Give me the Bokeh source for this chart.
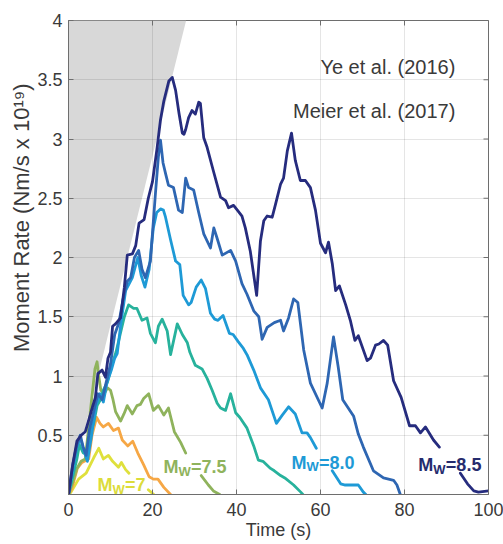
import math
import numpy as np
from bokeh.plotting import figure
from bokeh.models import Range1d, FixedTicker, Label, CustomJSTickFormatter, Title
from bokeh.embed import file_html
from bokeh.resources import INLINE

nan = float("nan")

# ---------------- data ----------------
x_ticks = [0, 20, 40, 60, 80, 100]
y_ticks = [0.5, 1, 1.5, 2, 2.5, 3, 3.5, 4]

# grey wedge (rupture-growth limit)
wedge_t = [0, 28, 0]
wedge_y = [0, 4, 4]

# Mw 7.0 (yellow)
t_70 = [0, 0.6, 2.4, 4.2, 6, 7.2, 8.3, 9.5, 10.5, 11.9, 12.6, 13.6, 14.4, nan, 19, 20.3]
m_70 = [0, 0.02, 0.13, 0.18, 0.31, 0.39, 0.30, 0.33, 0.28, 0.23, 0.27, 0.21, 0.18, nan, 0.04, 0]

# Mw 7.25 (orange)
t_725 = [0, 0.8, 2.1, 3.2, 4.8, 5.6, 6.7, 7.5, 8.3, 9.5, 10.7, 11.9, 12.8, 14.1, 15.3, 16.5,
         17.9, 19.2, 20.2, 21.3, 22.7, 24.3]
m_725 = [0, 0.05, 0.22, 0.27, 0.30, 0.50, 0.65, 0.60, 0.57, 0.60, 0.54, 0.56, 0.46, 0.41, 0.45, 0.35,
         0.25, 0.15, 0.13, 0.13, 0.06, 0]

# Mw 7.5 (olive)
t_75 = [0, 1, 2, 3, 4, 4.6, 5.5, 6.3, 6.8, 7.2, 7.7, 8.5, 9.3, 10, 10.6, 11.2, 12.4, 13.2, 14,
        15.2, 16.3, 17.1, 17.9, 19.1, 20.2, 21.4, 22.7, 23.8, 25.2, 26.7, 27.9, nan,
        31.6, 33.3, 34.5, 36]
m_75 = [0, 0.10, 0.22, 0.28, 0.30, 0.50, 0.80, 1.06, 1.12, 1.00, 0.88, 0.85, 0.90, 0.88, 0.80, 0.70,
        0.62, 0.68, 0.75, 0.68, 0.75, 0.76, 0.81, 0.85, 0.71, 0.75, 0.67, 0.73, 0.53, 0.44, 0.35, nan,
        0.16, 0.08, 0.03, 0]

# Mw 7.75 (teal)
t_775 = [0, 1, 2, 2.6, 3.5, 4.3, 5, 6, 6.8, 7.6, 8.3, 9.3, 10.4, 11.3, 12.3, 13.3, 14.3, 15.5,
         16.3, 17.5, 18.7, 19.5, 20.7, 21.4, 22.3, 23.5, 24.3, 25.9, 27.1, 28.3, 28.9, 30.2,
         31.8, 33, 34.2, 35.4, 36.2, 37.4, 38.6, 39.8, 40.8, 42.5, 44.1, 45.2, 46.3, 48.1, 49,
         50.5, 51.5, 53.6, 55.3, 55.8]
m_775 = [0, 0.15, 0.30, 0.42, 0.35, 0.35, 0.50, 0.60, 0.75, 0.80, 0.88, 0.95, 1.10, 1.20, 1.35,
         1.50, 1.60, 1.57, 1.57, 1.47, 1.49, 1.36, 1.28, 1.42, 1.48, 1.38, 1.18, 1.44, 1.35, 1.28,
         1.20, 1.09, 1.06, 0.98, 0.88, 0.77, 0.73, 0.71, 0.85, 0.69, 0.65, 0.56, 0.41, 0.29, 0.28,
         0.22, 0.20, 0.16, 0.14, 0.08, 0.02, 0]

# Mw 8.0 (light blue)
t_80 = [0, 1, 2, 2.8, 3.6, 4.5, 5.5, 6.5, 7.5, 8.3, 9.2, 10.2, 11, 11.6, 12.5, 13.6, 15.2, 16.5,
        17.3, 18.2, 19.2, 20.2, 21, 21.9, 22.6, 23.1, 24.3, 25.5, 26.5, 27.3, 28.6, 29.2, 30.4,
        31.6, 32.6, 33.8, 34.8, 35.6, 36.8, 38.3, 39.2, 40.4, 41.5, 42.5, 44.1, 45.7, 47.6, 49.5,
        50.9, 52.4, 54, 55.6, 56.8, 57.6, 59, nan, 62.8, 64.8, 65.9, 69, 70.2, 70.8]
m_80 = [0, 0.20, 0.40, 0.48, 0.38, 0.28, 0.50, 0.75, 0.85, 0.78, 0.95, 1.05, 1.15, 1.19, 1.45,
        1.72, 1.83, 2.00, 1.85, 1.75, 1.90, 2.25, 2.38, 2.41, 2.40, 2.34, 2.15, 1.97, 1.94, 1.68,
        1.60, 1.62, 1.75, 1.81, 1.74, 1.53, 1.48, 1.47, 1.51, 1.36, 1.35, 1.29, 1.24, 1.18, 1.05,
        0.90, 0.80, 0.60, 0.67, 0.74, 0.68, 0.52, 0.52, 0.48, 0.39, nan, 0.20, 0.09, 0.08, 0.08,
        0.02, 0]

# Mw 8.25 (blue)
t_825 = [0, 1, 2, 2.8, 3.5, 4.2, 5, 6, 7, 8, 9, 10, 11, 12, 13, 14, 14.8, 15.7, 16.7, 17.5,
         18.3, 19.5, 20.7, 21.4, 21.9, 22.5, 23.1, 23.8, 25, 26.2, 27.1, 27.9, 28.6, 29.8, 31,
         32.2, 33.8, 34.6, 35.4, 36.6, 38.6, 39.8, 41.3, 42.5, 44.1, 45.3, 46.1, 47.3, 49, 50.5,
         51.2, 52.4, 53.6, 54.6, 56, 57.6, 60.4, 61.6, 63.1, 64.2, 65.3, 67.9, 69, 70.2, 72.6,
         75, 77.4, 78.2, 79]
m_825 = [0, 0.25, 0.42, 0.50, 0.40, 0.33, 0.55, 0.70, 0.85, 0.80, 0.95, 1.10, 1.35, 1.45, 1.65,
         1.80, 1.83, 2.00, 2.06, 1.90, 1.83, 1.97, 2.54, 2.85, 2.99, 2.80, 2.71, 2.61, 2.59, 2.40,
         2.38, 2.67, 2.59, 2.57, 2.38, 2.20, 2.08, 2.25, 2.16, 2.02, 2.06, 1.97, 1.78, 1.69, 1.55,
         1.50, 1.31, 1.41, 1.45, 1.47, 1.38, 1.49, 1.65, 1.62, 1.22, 0.94, 0.73, 0.94, 1.33, 1.08,
         0.80, 0.66, 0.51, 0.40, 0.20, 0.14, 0.12, 0.08, 0]

# Mw 8.5 (navy)
t_85 = [0, 1, 2, 3, 4, 5, 5.8, 6.4, 7, 8, 8.8, 9.4, 10, 10.5, 11.2, 12.4, 13.3, 14, 15.2, 16,
        16.8, 18, 19, 20, 21, 21.9, 22.7, 23.9, 24.7, 25.5, 26.3, 27.1, 27.5, 27.9, 28.6, 29.4,
        30.2, 31, 31.4, 32.2, 33, 34.5, 36.2, 37.4, 38.1, 39.3, 40.2, 41.3, 42.1, 43.3, 44.8,
        45.7, 46.5, 47.3, 48.5, 49.3, 50.5, 51.2, 52.1, 53.1, 54, 55.2, 56.4, 57.6, 58.8, 60,
        61.2, 61.9, 62.8, 63.6, 64.5, 66, 67.1, 68.2, 69, 71.1, 71.9, 73.1, 73.9, 75, 76, 77.4,
        79.2, 81.2, 82.6, 83.8, 85, 86.9, 88.3, nan, 93.3, 95, 96.5, 97.6, 100]
m_85 = [0, 0.25, 0.45, 0.50, 0.53, 0.65, 0.75, 0.82, 1.02, 1.05, 0.99, 1.15, 1.20, 1.42, 1.44,
        1.49, 1.75, 2.02, 2.03, 2.10, 2.29, 2.32, 2.50, 2.64, 2.90, 3.16, 3.32, 3.49, 3.52, 3.41,
        3.22, 3.05, 3.04, 3.08, 3.18, 3.24, 3.21, 3.31, 3.30, 3.01, 2.93, 2.73, 2.51, 2.48, 2.42,
        2.44, 2.40, 2.35, 2.25, 2.05, 1.68, 2.14, 2.31, 2.35, 2.34, 2.45, 2.62, 2.67, 2.90, 3.05,
        2.82, 2.65, 2.65, 2.59, 2.40, 2.12, 2.04, 2.13, 1.95, 1.72, 1.76, 1.60, 1.47, 1.30, 1.34,
        1.13, 1.15, 1.26, 1.27, 1.30, 1.26, 0.96, 0.82, 0.58, 0.58, 0.52, 0.57, 0.46, 0.40, nan,
        0.18, 0.09, 0.03, 0.02, 0.03]

series_t = [t_70, t_725, t_75, t_775, t_80, t_825, t_85]
series_m = [m_70, m_725, m_75, m_775, m_80, m_825, m_85]
series_colors = ["#dfe03c", "#f6a745", "#8fb35c", "#27b29c", "#1e9ad6", "#2e66b2", "#262c7e"]

# magnitude labels: value text, anchor time, anchor rate, colour
mag_text = ["7", "7.5", "8.0", "8.5"]
mag_t = [6.9, 22.6, 53.1, 83.3]
mag_y = [0.076, 0.23, 0.27, 0.245]
mag_colors = ["#dcdc3a", "#8fb35c", "#1e9ad6", "#262c6e"]

ref_texts = ["Ye et al. (2016)", "Meier et al. (2017)"]
ref_y = [3.606, 3.24]

FONT = "Liberation Sans"
TXT = "#3a3a3a"
AX = "#6e6e6e"

p = figure(width=503, height=544, output_backend="svg", toolbar_location=None,
           x_range=Range1d(0, 100), y_range=Range1d(0, 4),
           min_border_left=68, min_border_right=15, min_border_top=20, min_border_bottom=50)
p.background_fill_color = "white"
p.border_fill_color = "white"
p.outline_line_color = AX
p.outline_line_width = 1

# grey wedge under the grid
p.patch(wedge_t, wedge_y, fill_color="#d8d8d8", line_color=None, level="image")

for t, m, c in zip(series_t, series_m, series_colors):
    p.line(np.array(t, dtype=float), np.array(m, dtype=float), line_color=c, line_width=2.8,
           line_join="round", line_cap="round")

# inward ticks on the right and top edges (box style)
p.scatter(x=[x_ticks[-1]] * len(y_ticks), y=y_ticks, marker="dash", size=10,
          line_color=AX, line_width=1)
p.scatter(x=x_ticks, y=[y_ticks[-1]] * len(x_ticks), marker="dash", size=10, angle=math.pi / 2,
          line_color=AX, line_width=1)

# axes
for ax in (p.xaxis[0], p.yaxis[0]):
    ax.major_tick_in = 5
    ax.major_tick_out = 0
    ax.minor_tick_in = 0
    ax.minor_tick_out = 0
    ax.axis_line_color = AX
    ax.major_tick_line_color = AX
    ax.major_label_text_font = FONT
    ax.major_label_text_color = TXT
    ax.major_label_text_font_size = "18px"
    ax.major_label_standoff = 6
p.xaxis.major_label_standoff = 8

p.xaxis.ticker = FixedTicker(ticks=x_ticks)
p.yaxis.ticker = FixedTicker(ticks=y_ticks)
p.yaxis.formatter = CustomJSTickFormatter(code="return tick.toString();")
p.xaxis.formatter = CustomJSTickFormatter(code="return tick.toString();")

p.xaxis.axis_label = "Time (s)"
p.xaxis.axis_label_text_font = FONT
p.xaxis.axis_label_text_font_size = "18px"
p.xaxis.axis_label_text_font_style = "normal"
p.xaxis.axis_label_text_color = TXT
p.xaxis.axis_label_standoff = 1

p.grid.grid_line_color = "#000000"
p.grid.grid_line_alpha = 0.1
p.grid.grid_line_width = 1

# y-axis title (its top end sits below the frame top, as in the original)
ytitle = Title(text="Moment Rate (Nm/s x 10\u00b9\u2079)", align="right", offset=63,
               text_font=FONT, text_font_size="22px", text_font_style="normal",
               text_color=TXT, standoff=2)
p.add_layout(ytitle, "left")

# reference texts
for s, yy in zip(ref_texts, ref_y):
    p.add_layout(Label(x=92.1, y=yy, text=s, text_align="right", text_baseline="alphabetic",
                       text_font=FONT, text_font_size="20px", text_color=TXT))

# Mw labels
for s, tt, yy, c in zip(mag_text, mag_t, mag_y, mag_colors):
    common = dict(x=tt, y=yy, text_baseline="alphabetic", text_font=FONT,
                  text_font_style="bold", text_color=c)
    p.add_layout(Label(text="M", text_font_size="18px", **common))
    p.add_layout(Label(text="W", text_font_size="13px", x_offset=15, y_offset=-4, **common))
    p.add_layout(Label(text="=" + s, text_font_size="18px", x_offset=27.5, **common))

open("out.html", "w").write(file_html(p, INLINE))
